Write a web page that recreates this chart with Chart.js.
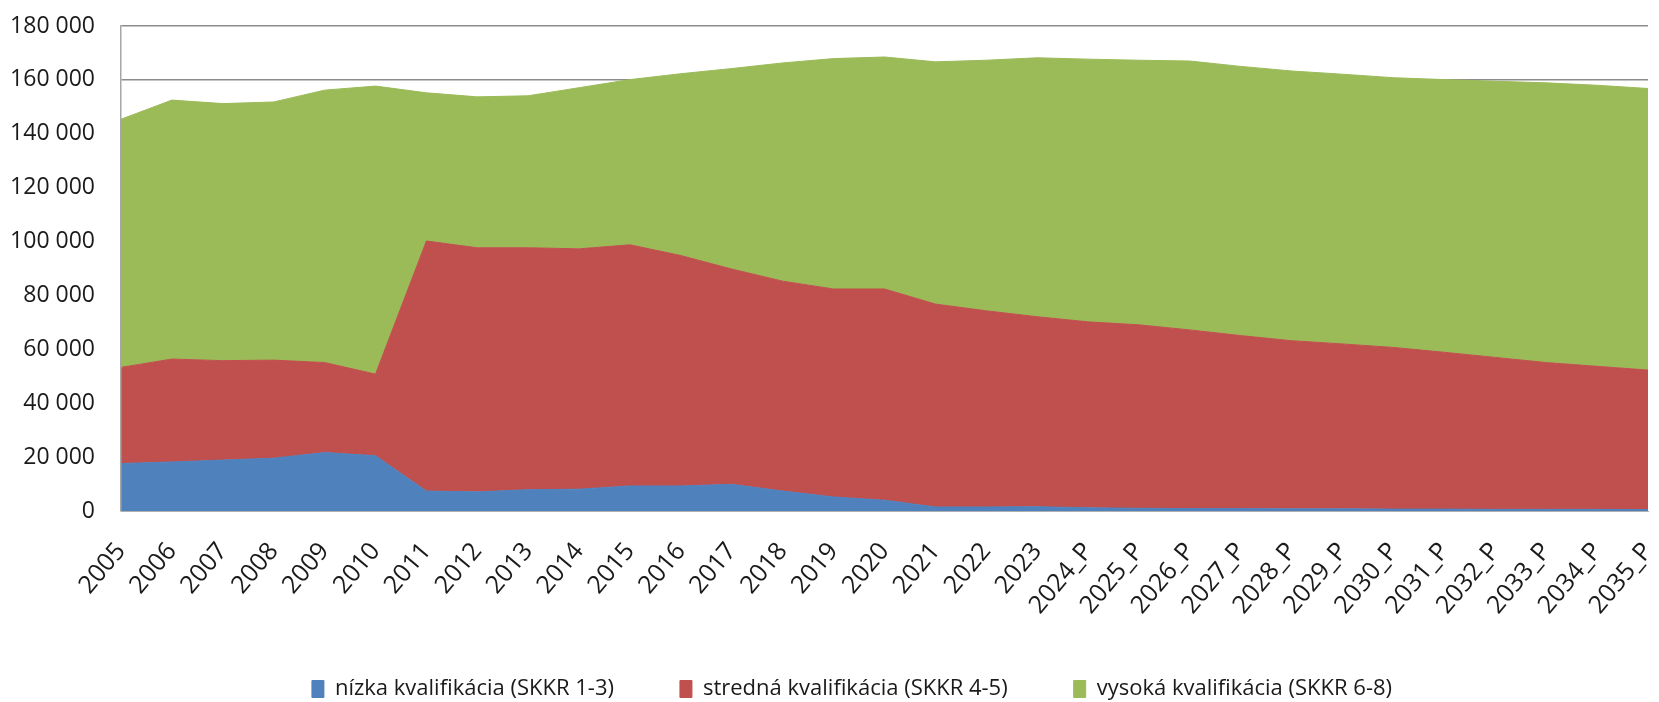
<!DOCTYPE html>
<html>
<head>
<meta charset="utf-8">
<script src="https://cdn.jsdelivr.net/npm/chart.js@4/dist/chart.umd.min.js"></script>
<style>
  html, body { margin: 0; padding: 0; background: #fff; }
  #wrap { width: 1659px; height: 702px; }
</style>
</head>
<body>
<div id="wrap"><canvas id="chart" width="1659" height="702"></canvas></div>
<script>
const years = ['2005', '2006', '2007', '2008', '2009', '2010', '2011', '2012', '2013', '2014',
  '2015', '2016', '2017', '2018', '2019', '2020', '2021', '2022', '2023',
  '2024_P', '2025_P', '2026_P', '2027_P', '2028_P', '2029_P', '2030_P', '2031_P',
  '2032_P', '2033_P', '2034_P', '2035_P'];

// nízka kvalifikácia (SKKR 1-3)
const nizka = [17600, 18200, 18900, 19600, 21700, 20500, 7400, 7100, 7900, 8100,
  9300, 9300, 9900, 7400, 5200, 4000, 1500, 1500, 1600,
  1200, 1000, 900, 900, 800, 800, 700, 700, 600, 600, 600, 500];

// stredná kvalifikácia (SKKR 4-5)
const stredna = [35700, 38200, 36900, 36400, 33400, 30300, 92800, 90600, 89800, 89200,
  89500, 85500, 79900, 77900, 77200, 78400, 75300, 72800, 70500,
  69000, 68100, 66300, 64200, 62400, 61200, 60000, 58200, 56400, 54500, 53100, 51800];

// vysoká kvalifikácia (SKKR 6-8)
const vysoka = [92100, 96100, 95400, 95800, 101100, 106900, 55000, 56000, 56400, 59800,
  61300, 67500, 74400, 81000, 85500, 86100, 89900, 93000, 96100,
  97500, 98200, 99800, 99900, 100100, 100100, 100100, 101200, 102500, 103800, 104300, 104500];

const seriesNames = ['nízka kvalifikácia (SKKR 1-3)', 'stredná kvalifikácia (SKKR 4-5)', 'vysoká kvalifikácia (SKKR 6-8)'];
const yTicks = [0, 20000, 40000, 60000, 80000, 100000, 120000, 140000, 160000, 180000];

const family = "'Open Sans', 'DejaVu Sans', sans-serif";
const textColor = '#1a1a1a';

function area(label, data, color, fill) {
  return {
    label: label,
    data: data,
    backgroundColor: color,
    borderColor: color,
    borderWidth: 1,
    pointRadius: 0,
    pointHoverRadius: 0,
    tension: 0,
    fill: fill
  };
}

function fmt(v) {
  return String(v).replace(/\B(?=(\d{3})+(?!\d))/g, ' ');
}

// legend sits a little right of the canvas centre in the original,
// and the rotated year labels run a bit into the legend box
const tweakLayout = {
  id: 'tweakLayout',
  afterLayout(chart) {
    chart.legend.left += 28;
    chart.legend.right += 28;
    chart.scales.x.bottom += 40;
  }
};

new Chart(document.getElementById('chart'), {
  type: 'line',
  data: {
    labels: years,
    datasets: [
      area(seriesNames[0], nizka, '#4F81BD', 'origin'),
      area(seriesNames[1], stredna, '#C0504D', '-1'),
      area(seriesNames[2], vysoka, '#9BBB59', '-1')
    ]
  },
  plugins: [tweakLayout],
  options: {
    responsive: false,
    animation: false,
    devicePixelRatio: 1,
    layout: { padding: { top: 26, right: 11, left: 0, bottom: -8 } },
    plugins: {
      legend: {
        position: 'bottom',
        labels: {
          font: { family: family, size: 22 },
          color: textColor,
          boxWidth: 12,
          boxHeight: 17,
          padding: 66
        }
      },
      tooltip: { enabled: false }
    },
    scales: {
      x: {
        offset: false,
        grid: { display: false, drawTicks: false },
        border: { display: true, color: '#b0b0b0', width: 1, z: 1 },
        ticks: {
          font: { family: family, size: 25 },
          color: textColor,
          autoSkip: false,
          minRotation: 50,
          maxRotation: 50,
          padding: 26
        },
        afterFit: (scale) => {
          scale.height = 101;
          scale.paddingLeft = 0;
          scale.paddingRight = 0;
        }
      },
      y: {
        stacked: true,
        min: 0,
        max: 180000,
        afterBuildTicks: (scale) => { scale.ticks = yTicks.map(v => ({ value: v })); },
        grid: { color: '#8c8c8c', lineWidth: 1.5, drawTicks: false },
        border: { display: true, color: '#a6a6a6', width: 1.5, z: 1 },
        ticks: {
          font: { family: family, size: 23 },
          color: textColor,
          padding: 26,
          callback: (v) => fmt(v)
        },
        afterFit: (scale) => {
          scale.width = 121;
          scale.paddingTop = 0;
          scale.paddingBottom = 0;
        }
      }
    }
  }
});
</script>
</body>
</html>
